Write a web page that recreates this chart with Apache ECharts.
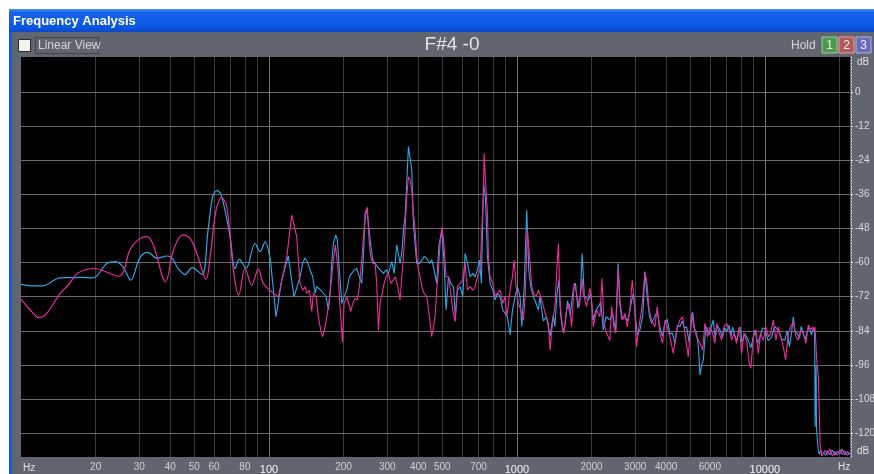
<!DOCTYPE html>
<html>
<head>
<meta charset="utf-8">
<script src="https://cdn.jsdelivr.net/npm/echarts@6/dist/echarts.min.js"></script>
<style>
  html, body { margin: 0; padding: 0; background: #ffffff; }
  #chart { width: 874px; height: 474px; }
</style>
</head>
<body>
<div id="chart"></div>
<script>
// Grid frequencies (Hz)
const gridMinorHz = [20, 30, 40, 50, 60, 70, 80, 90,
  200, 300, 400, 500, 600, 700, 800, 900,
  2000, 3000, 4000, 5000, 6000, 7000, 8000, 9000, 20000];
const gridMajorHz = [100, 1000, 10000];
const freqLabels = [20, 30, 40, 50, 60, 80, 100, 200, 300, 400, 500, 700, 1000, 2000, 3000, 4000, 6000, 10000];
const dbTicks = [0, -12, -24, -36, -48, -60, -72, -84, -96, -108, -120];

// Channel 1 (cyan): [Hz, dB]
const cyanLow = [[10, -67.7], [10.9, -68.2], [12.15, -68.2], [14.37, -65.4], [17.3, -65.2], [19.5, -65.4], [22.2, -60.3], [23.9, -59.7], [25.8, -61.5], [27.7, -66.2], [30.2, -58.2], [32.5, -56.4], [35.4, -58.5], [38.8, -57.7], [40.7, -58.5], [43.0, -62.1], [45.9, -64.2], [49.0, -61.8], [53.7, -64.2], [56.8, -48.6], [59.5, -36.3], [61.9, -34.7], [64.5, -36.8], [69.7, -50.9], [73.0, -62.1], [76.0, -58.9], [80.8, -62.1], [87.9, -53.3], [92.0, -56.2], [96.5, -52.7], [101.7, -60.3]];

const cyanMid = [[101.7, -60.3], [106.8, -79.1], [112.6, -66.2], [119.7, -57.7], [126.2, -72.1],
  [133.5, -65.0], [136.8, -60.3], [139.8, -58.3], [142.9, -59.7], [146.5, -62.6], [150.2, -65.0], [153.4, -70.8], [155.8, -68.5], [158.3, -69.1], [161.7, -69.7], [165.8, -70.8], [170.0, -72.0], [173.7, -76.7], [176.4, -70.8], [179.1, -60.3], [181.9, -53.3], [185.9, -50.3], [188.8, -52.1], [192.3, -62.6], [196.6, -74.4], [200.9, -72.0], [205.9, -69.7], [211.1, -65.0], [215.7, -63.8], [220.4, -62.6], [225.9, -62.1], [231.6, -65.0], [236.7, -67.3], [240.4, -57.9], [244.2, -42.7], [248.0, -41.5], [251.9, -46.2], [255.8, -52.1], [262.2, -59.1], [267.9, -60.3], [273.8, -61.5], [280.7, -62.6], [289.5, -63.8], [296.8, -62.6], [303.3, -63.8], [312.8, -59.7], [319.7, -63.8], [327.7, -53.8], [333.8, -53.8], [338.0, -60.3], [343.3, -56.8], [348.7, -48.6], [354.0, -43.9], [359.5, -32.1], [365.2, -19.2], [370.9, -18.6], [376.7, -27.4], [382.5, -46.2], [388.6, -53.8], [394.6, -60.3], [404.5, -60.3], [413.4, -59.1], [422.4, -57.9], [433.0, -58.5], [443.9, -60.3], [453.6, -59.1], [463.5, -62.6], [475.1, -67.3], [484.0, -54.4], [497.7, -48.6], [508.6, -60.3], [518.2, -76.7], [529.5, -65.0], [541.1, -67.3], [554.7, -68.5], [564.9, -79.1], [575.6, -69.7], [590.1, -68.5], [604.9, -72.0], [618.1, -56.8], [631.7, -60.3], [647.5, -65.0], [663.7, -63.8], [678.2, -65.0], [693.1, -62.6], [706.1, -59.1], [719.3, -67.3], [732.8, -32.1], [746.6, -36.8], [760.6, -57.9], [779.7, -67.3], [799.3, -69.7], [816.8, -73.2], [834.8, -70.8], [855.7, -72.0], [877.1, -76.7], [896.3, -77.9], [915.9, -79.1], [938.9, -85.5], [959.4, -76.7], [983.3, -72.0], [1004.9, -68.5], [1030.1, -72.0], [1046.2, -82.6], [1069.1, -69.7], [1095.9, -41.5], [1116.4, -62.6], [1137.4, -68.5], [1166.0, -72.0], [1195.2, -74.4], [1221.4, -76.7]];

const cyanHigh = [[1238, -72.0], [1277, -80.5], [1317, -79.1], [1359, -86.0], [1402, -78.5], [1423, -82.6], [1451, -71.0], [1477, -66.2], [1500, -78.0], [1530, -84.0], [1562, -82.6], [1600, -73.5], [1640, -78.5], [1687, -69.7], [1724, -67.3], [1760, -76.0], [1800, -72.5], [1834, -56.8], [1870, -72.0], [1940, -73.2], [1985, -71.0], [2032, -80.2], [2080, -77.0], [2129, -75.5], [2180, -74.0], [2230, -83.7], [2290, -79.0], [2372, -80.2], [2430, -78.0], [2500, -84.0], [2562, -60.3], [2600, -74.5], [2650, -80.0], [2726, -79.1], [2800, -80.5], [2880, -75.0], [2946, -70.8], [3000, -78.0], [3060, -85.5], [3134, -83.7], [3220, -78.5], [3283, -63.2], [3340, -70.5], [3420, -78.5], [3493, -81.4], [3580, -79.5], [3680, -77.0], [3774, -82.6], [3860, -86.0], [3954, -81.4], [4040, -80.0], [4140, -85.0], [4246, -84.9], [4340, -88.5], [4450, -82.0], [4545, -82.6], [4640, -80.5], [4740, -83.0], [4836, -82.6], [4950, -88.0], [5112, -77.3], [5200, -83.0], [5307, -84.9], [5400, -90.0], [5474, -99.6], [5560, -96.0], [5645, -94.3], [5740, -86.0], [5823, -82.6], [5950, -85.5], [6060, -83.0], [6194, -80.2], [6300, -86.5], [6420, -82.0], [6591, -83.7], [6750, -86.5], [6880, -83.0], [7011, -84.3], [7180, -82.0], [7300, -86.0], [7413, -82.6], [7560, -85.5], [7700, -87.5], [7936, -82.6], [8100, -88.0], [8300, -85.0], [8575, -87.3], [8780, -90.0], [9000, -86.0], [9122, -83.7], [9350, -88.5], [9555, -86.1], [9800, -83.0], [10009, -83.2], [10300, -87.5], [10649, -86.1], [10950, -82.5], [11330, -83.7], [11700, -87.0], [12052, -87.3], [12300, -84.0], [12549, -89.6], [12800, -85.0], [13023, -79.1], [13250, -84.5], [13514, -84.9], [13800, -86.5], [14000, -82.5], [14289, -84.9], [14600, -87.0], [14800, -84.5], [15107, -82.6], [15400, -85.5], [15680, -83.2], [15850, -84.5], [15900, -92.0], [15950, -117.8], [16000, -100.0], [16050, -114.0], [16100, -96.0], [16150, -118.0], [16250, -121.0], [16400, -125.5], [16600, -127.5], [16800, -126.0], [16980, -127.8], [17300, -126.8], [17600, -127.9], [17900, -126.2], [18290, -127.6], [18700, -125.9], [19150, -127.8], [19600, -126.4], [20050, -127.3], [20500, -125.6], [20990, -127.7], [21500, -126.5], [22050, -127.6]];

// Channel 2 (magenta): [Hz, dB]
const magLow = [[10, -72.9], [10.9, -76.7], [11.85, -79.4], [12.70, -77.9], [14.37, -70.9], [15.51, -67.9], [17.03, -63.6], [19.89, -62.1], [22.5, -63.6], [24.7, -64.8], [25.9, -63.2], [27.5, -55.6], [30.2, -51.5], [32.2, -50.9], [34.2, -53.9], [38.3, -66.8], [41.2, -55.6], [44.9, -50.3], [48.1, -51.5], [51.2, -56.8], [55.8, -65.9], [57.9, -58.0], [61.2, -41.5], [64.5, -37.2], [67.6, -40.4], [71.9, -62.7], [75.5, -71.5], [80.1, -62.1], [85.2, -67.9], [90.6, -62.3], [94.9, -67.3], [102.6, -70.3]];

const magMid = [[102.6, -70.3], [109.1, -72.1], [118.0, -58.0], [123.6, -43.3], [129.4, -50.9],
  [133.5, -67.3], [136.8, -69.7], [139.8, -68.5], [142.0, -70.8], [145.6, -69.7], [148.8, -77.3], [151.1, -70.8], [154.9, -72.0], [158.3, -79.1], [161.7, -83.8], [164.8, -86.1], [168.4, -82.6], [173.7, -75.5], [177.5, -68.5], [181.9, -59.1], [185.4, -53.8], [187.7, -54.4], [190.0, -62.6], [192.3, -72.0], [194.8, -79.1], [197.9, -87.9], [200.9, -74.4], [205.9, -72.0], [209.8, -74.4], [213.7, -77.3], [217.7, -74.4], [222.5, -72.6], [227.3, -73.2], [231.6, -68.5], [236.7, -59.1], [241.8, -48.6], [246.4, -41.5], [249.5, -40.6], [253.4, -52.1], [257.3, -57.9], [262.2, -60.3], [267.9, -60.3], [272.1, -67.3], [276.4, -83.8], [280.7, -74.4], [285.1, -74.4], [291.3, -67.3], [296.8, -65.0], [303.3, -63.8], [309.9, -67.3], [317.7, -66.2], [323.6, -65.0], [330.7, -68.5], [338.0, -73.2], [343.3, -65.0], [348.7, -57.9], [354.0, -48.6], [359.5, -36.8], [365.2, -29.8], [370.9, -31.0], [376.7, -34.5], [382.5, -42.7], [388.6, -48.6], [394.6, -57.9], [400.7, -62.6], [406.9, -65.0], [413.4, -68.5], [422.4, -70.8], [433.0, -72.0], [443.9, -79.1], [453.6, -86.1], [460.6, -82.6], [467.7, -79.1], [475.1, -69.7], [482.5, -62.6], [490.0, -53.3], [499.2, -47.4], [508.6, -54.4], [518.2, -65.0], [529.5, -65.0], [541.1, -70.8], [551.2, -76.7], [563.2, -80.8], [575.6, -68.5], [590.1, -67.3], [604.9, -66.2], [618.1, -60.3], [631.7, -69.7], [647.5, -68.5], [663.7, -69.7], [678.2, -68.5], [693.1, -65.0], [710.4, -62.6], [721.6, -48.6], [732.8, -36.8], [737.4, -21.6], [746.6, -31.0], [760.6, -42.7], [767.7, -57.9], [779.7, -65.0], [799.3, -67.3], [816.8, -72.0], [834.8, -70.8], [855.7, -69.7], [877.1, -74.4], [896.3, -72.0], [910.0, -79.1], [938.9, -69.7], [959.4, -65.0], [974.3, -59.1], [992.6, -68.5], [1014.4, -74.4], [1036.6, -76.7], [1062.4, -80.2], [1079.0, -72.0], [1102.7, -48.6], [1130.4, -60.3], [1148.2, -68.5], [1166.0, -70.8], [1195.2, -72.0], [1221.4, -69.7], [1248.3, -72.0], [1279.5, -75.5], [1311.7, -79.1], [1340.5, -81.4], [1361.5, -90.8], [1382.7, -83.8], [1404.2, -79.1], [1426.0, -74.4], [1448.4, -62.6], [1470.9, -53.3]];

const magHigh = [[1491, -73.2], [1514, -80.2], [1547, -84.9], [1586, -76.7], [1626, -74.4], [1662, -82.6], [1703, -67.3], [1740, -70.8], [1784, -75.5], [1834, -65.6], [1851, -70.8], [1910, -75.5], [1970, -69.1], [2001, -73.2], [2032, -82.6], [2096, -76.7], [2162, -79.1], [2203, -65.6], [2244, -81.4], [2300, -84.9], [2372, -87.3], [2409, -75.5], [2462, -82.6], [2507, -84.9], [2562, -62.0], [2602, -73.2], [2667, -80.2], [2726, -77.9], [2786, -82.6], [2856, -76.7], [2918, -66.2], [2973, -73.2], [3038, -89.6], [3105, -82.6], [3183, -76.7], [3283, -63.5], [3335, -66.2], [3418, -76.7], [3493, -80.2], [3603, -82.6], [3682, -75.5], [3774, -84.9], [3869, -88.4], [3954, -80.2], [4040, -82.6], [4168, -87.3], [4272, -92.0], [4407, -83.7], [4545, -80.2], [4660, -79.1], [4762, -84.9], [4912, -93.1], [5066, -77.9], [5176, -82.6], [5307, -86.1], [5474, -88.4], [5610, -90.8], [5733, -81.4], [5877, -86.1], [6006, -82.6], [6157, -84.9], [6292, -88.4], [6390, -81.4], [6550, -84.9], [6693, -87.3], [6839, -82.6], [7011, -81.4], [7187, -83.7], [7344, -87.3], [7505, -84.9], [7694, -88.4], [7887, -82.6], [8056, -92.0], [8232, -84.9], [8438, -87.3], [8650, -95.5], [8786, -97.2], [8979, -86.1], [9206, -83.7], [9408, -92.0], [9614, -84.9], [9856, -87.3], [10102, -82.6], [10356, -86.1], [10551, -84.9], [10815, -80.2], [11087, -87.3], [11330, -82.6], [11578, -86.1], [11868, -89.6], [12128, -94.3], [12432, -84.9], [12704, -82.6], [13023, -80.8], [13350, -86.1], [13642, -87.3], [13940, -83.7], [14289, -84.9], [14648, -88.4], [14968, -82.0], [15296, -83.7], [15584, -82.6], [15776, -84.3], [15930, -82.6], [16190, -94.3], [16440, -100.2], [16600, -114.3], [16710, -124.2], [16980, -128.0], [17470, -126.0], [17900, -127.5], [18290, -125.5], [18700, -128.0], [19150, -126.5], [19600, -127.8], [20050, -125.8], [20500, -127.5], [20990, -126.2], [21500, -127.8], [22050, -126.8]];

const CYAN = '#27aae6';
const MAGENTA = '#f02a9c';
const UI_FONT = '"Liberation Sans", Arial, sans-serif';

const chart = echarts.init(document.getElementById('chart'), null, { renderer: 'canvas' });

// Grid lines are drawn as mark lines so that they follow the log scale exactly
const gridLines = [];
gridMinorHz.forEach(v => gridLines.push({ xAxis: v, lineStyle: { color: '#3c3c3c', width: 1, type: 'solid' } }));
gridMajorHz.forEach(v => gridLines.push({ xAxis: v, lineStyle: { color: '#727272', width: 1, type: 'solid' } }));
dbTicks.forEach(v => gridLines.push({ yAxis: v, lineStyle: { color: '#6c6c6c', width: 1, type: 'solid' } }));

function button(x, label, fill, edge) {
  return [
    { type: 'rect', shape: { x: x, y: 37, width: 15, height: 16 }, style: { fill: fill, stroke: edge, lineWidth: 1 } },
    { type: 'text', x: x + 7.5, y: 45.5, style: { text: label, fill: '#eef2ee', font: '12px ' + UI_FONT, align: 'center', verticalAlign: 'middle' } }
  ];
}

const option = {
  backgroundColor: '#ffffff',
  animation: false,
  graphic: {
    elements: [
      // window frame
      { type: 'rect', z: -10, shape: { x: 9, y: 9, width: 865, height: 465 }, style: { fill: '#1c58d6' } },
      { type: 'rect', z: -9, shape: { x: 12, y: 32, width: 862, height: 442 }, style: { fill: '#60656f' } },
      { type: 'rect', z: -9, shape: { x: 9, y: 9, width: 865, height: 23 },
        style: { fill: new echarts.graphic.LinearGradient(0, 0, 0, 1, [
          { offset: 0, color: '#4a90f6' }, { offset: 0.15, color: '#1663ea' },
          { offset: 0.8, color: '#0b56e2' }, { offset: 1, color: '#0a48c4' }]) } },
      { type: 'text', x: 13, y: 21, style: { text: 'Frequency Analysis', fill: '#ffffff', font: 'bold 13px ' + UI_FONT, verticalAlign: 'middle' } },
      // toolbar
      { type: 'rect', shape: { x: 18.5, y: 39.5, width: 12, height: 12 }, style: { fill: '#f2f2ee', stroke: '#2a2a2a', lineWidth: 1 } },
      { type: 'rect', shape: { x: 35.5, y: 37.5, width: 63, height: 16 }, style: { fill: 'transparent', stroke: '#262626', lineWidth: 1, lineDash: [1, 1] } },
      { type: 'text', x: 38, y: 46, style: { text: 'Linear View', fill: '#d6d6d6', font: '12px ' + UI_FONT, verticalAlign: 'middle' } },
      { type: 'text', x: 452, y: 45, style: { text: 'F#4 -0', fill: '#e4e4e4', font: '19px ' + UI_FONT, align: 'center', verticalAlign: 'middle' } },
      { type: 'text', x: 791, y: 46, style: { text: 'Hold', fill: '#d6d6d6', font: '12px ' + UI_FONT, verticalAlign: 'middle' } },
      ...button(822, '1', '#4c9a4c', '#9fd09f'),
      ...button(839, '2', '#b25a5a', '#e4a4a4'),
      ...button(856, '3', '#6a6ab8', '#b4b4ea'),
      // axis unit captions
      { type: 'text', x: 23, y: 468, style: { text: 'Hz', fill: '#e0e0e0', font: '10px ' + UI_FONT, verticalAlign: 'middle' } },
      { type: 'text', x: 838, y: 467, style: { text: 'Hz', fill: '#e0e0e0', font: '10px ' + UI_FONT, verticalAlign: 'middle' } },
      { type: 'text', x: 857, y: 62, style: { text: 'dB', fill: '#e0e0e0', font: '10px ' + UI_FONT, verticalAlign: 'middle' } },
      { type: 'text', x: 857, y: 451, style: { text: 'dB', fill: '#e0e0e0', font: '10px ' + UI_FONT, verticalAlign: 'middle' } }
    ]
  },
  grid: {
    left: 21, right: 24, top: 57, bottom: 17,
    outerBoundsMode: 'none',
    show: true, backgroundColor: '#000000', borderWidth: 0
  },
  xAxis: {
    type: 'log', logBase: 10, min: 10, max: 22050,
    axisLine: { show: false },
    splitLine: { show: false },
    axisTick: { show: true, customValues: gridMinorHz.concat(gridMajorHz), length: 3, lineStyle: { color: '#d8d8d8' } },
    axisLabel: {
      customValues: freqLabels,
      margin: 5,
      color: '#d4d4d4',
      fontFamily: UI_FONT,
      fontSize: 10,
      formatter: v => (gridMajorHz.indexOf(v) >= 0 ? '{b|' + v + '}' : '{a|' + v + '}'),
      rich: {
        a: { fontSize: 10, color: '#d0d0d0', fontFamily: UI_FONT },
        b: { fontSize: 11, color: '#f4f4f4', fontFamily: UI_FONT, padding: [2, 0, 0, 0] }
      }
    }
  },
  yAxis: {
    type: 'value', position: 'right', min: -128.4, max: 12.3, offset: 1,
    axisLine: { show: true, lineStyle: { color: '#e0e0e0', type: [1, 2], width: 1 } },
    splitLine: { show: false },
    axisTick: { show: true, customValues: dbTicks, length: 2, lineStyle: { color: '#e0e0e0' } },
    axisLabel: {
      customValues: dbTicks, margin: 4, color: '#dcdcdc', fontFamily: UI_FONT, fontSize: 10,
      formatter: v => (v < 0 ? '-' + Math.abs(v) : String(v))
    }
  },
  series: [
    {
      name: 'grid', type: 'line', data: [], silent: true,
      markLine: { silent: true, z: 1, symbol: ['none', 'none'], label: { show: false }, animation: false, data: gridLines }
    },
    { name: 'L low', type: 'line', data: cyanLow, showSymbol: false, smooth: 0.35, lineStyle: { color: CYAN, width: 1.2 }, z: 3 },
    { name: 'L', type: 'line', data: cyanMid.concat(cyanHigh), showSymbol: false, lineStyle: { color: CYAN, width: 1.1 }, z: 3 },
    { name: 'R low', type: 'line', data: magLow, showSymbol: false, smooth: 0.35, lineStyle: { color: MAGENTA, width: 1.2 }, z: 4 },
    { name: 'R', type: 'line', data: magMid.concat(magHigh), showSymbol: false, lineStyle: { color: MAGENTA, width: 1.1 }, z: 4 }
  ]
};

chart.setOption(option);
</script>
</body>
</html>
